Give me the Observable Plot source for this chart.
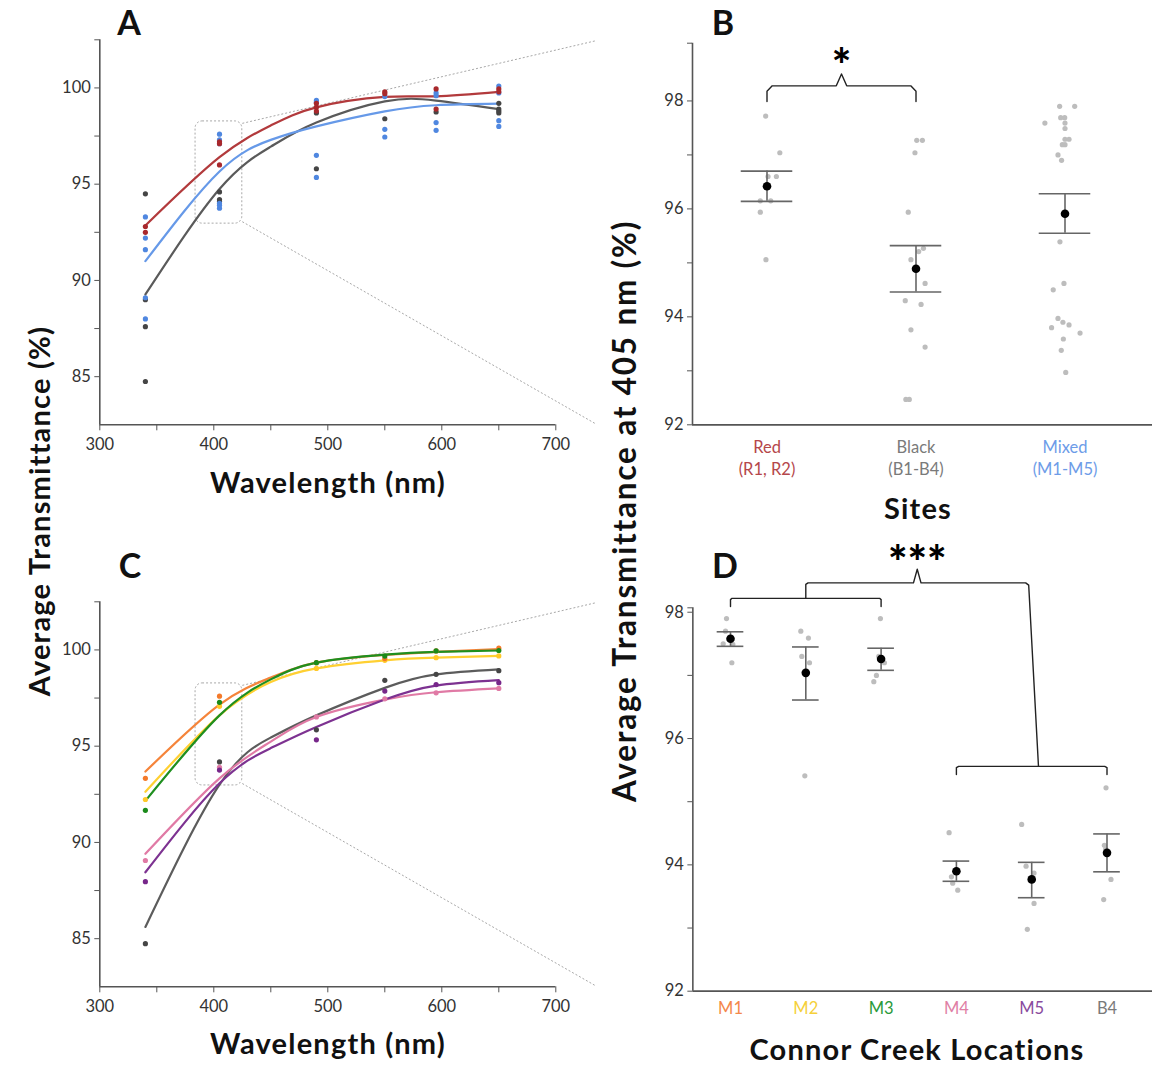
<!DOCTYPE html>
<html><head><meta charset="utf-8">
<script src="https://cdn.jsdelivr.net/npm/d3@7"></script>
<script src="https://cdn.jsdelivr.net/npm/@observablehq/plot@0.6"></script>
<style>
body{margin:0;background:#fff;font-family:Lato,"Open Sans",sans-serif}
#wrap{position:relative;width:1152px;height:1066px;overflow:hidden;background:#fff}
.p{position:absolute}
.t{position:absolute;transform:translate(-50%,-50%);white-space:nowrap;font-weight:700;color:#111;line-height:1}
.rot{transform:translate(-50%,-50%) rotate(-90deg)}
</style></head>
<body><div id="wrap"></div>
<script>
// ---------- DATA ----------
const wavelengths = [340, 405, 490, 550, 595, 650];
const fitWavelengths = [340, 405, 450, 490, 550, 595, 650];

// Panel A: measured points (one list per wavelength) and fitted curves
const aRedPoints = [[92.8, 92.5], [97.2, 97.1, 96.0], [99.2, 99.0, 98.8], [99.8, 99.7], [99.95, 98.9], [99.95, 99.8]];
const aBluePoints = [[93.3, 92.2, 91.6, 89.1, 88.0], [97.6, 97.3, 97.1, 94.0, 93.9, 93.75], [99.35, 99.25, 96.5, 95.35], [99.55, 97.85, 97.45], [99.74, 99.6, 98.2, 97.8], [100.1, 99.74, 98.3, 98.0]];
const aBlackPoints = [[94.5, 89.0, 87.6, 84.75], [94.6, 94.2, 94.1], [98.7, 95.8], [98.4], [98.75], [99.2, 98.9, 98.8, 98.7]];
const aRedFit = [92.85, 96.4, 98.05, 98.99, 99.53, 99.56, 99.79];
const aBlueFit = [91.0, 95.66, 97.3, 98.0, 98.78, 99.1, 99.18];
const aBlackFit = [89.27, 94.75, 96.95, 98.2, 99.3, 99.34, 98.9];

// Panel C: measured points and fitted curves per location
const cM1Points = [93.33, 97.6, 99.34, 99.55, 99.95, 100.09];
const cM2Points = [92.23, 97.07, 99.04, 99.46, 99.6, 99.69];
const cM3Points = [91.67, 97.28, 99.34, 99.68, 99.95, 99.97];
const cM4Points = [89.06, 93.9, 96.52, 97.46, 97.77, 98.0];
const cM5Points = [87.96, 93.76, 95.33, 97.86, 98.2, 98.3];
const cB4Points = [84.74, 94.18, 95.85, 98.42, 98.73, 98.92];
const cM1Fit = [93.68, 97.16, 98.56, 99.34, 99.74, 99.9, 100.04];
const cM2Fit = [92.63, 96.6, 98.33, 99.04, 99.46, 99.6, 99.69];
const cM3Fit = [92.16, 96.6, 98.47, 99.34, 99.76, 99.9, 99.97];
const cM4Fit = [89.41, 93.33, 95.24, 96.52, 97.42, 97.8, 98.0];
const cM5Fit = [88.45, 93.07, 94.9, 96.0, 97.42, 98.15, 98.43];
const cB4Fit = [85.61, 93.0, 95.45, 96.6, 98.03, 98.73, 98.99];

// Panel B: transmittance at 405 nm by site
const sites = ["Red", "Black", "Mixed"];
const siteCodes = ["(R1, R2)", "(B1-B4)", "(M1-M5)"];
const redValues = [97.72, 97.04, 96.6, 96.6, 96.15, 96.15, 95.94, 95.06];
const redJitter = [-0.009, 0.086, 0.007, 0.063, -0.045, 0.025, -0.045, -0.007];
const blackValues = [97.27, 97.27, 97.04, 95.94, 95.27, 95.21, 95.06, 94.62, 94.30, 94.23, 93.76, 93.44, 92.47, 92.47];
const blackJitter = [0.005, 0.043, -0.007, -0.052, 0.05, 0.018, -0.034, 0.061, -0.072, 0.034, -0.034, 0.061, -0.068, -0.045];
const mixedValues = [97.9, 97.9, 97.69, 97.69, 97.59, 97.59, 97.49, 97.29, 97.29, 97.19, 97.19, 97.0, 96.9, 95.39, 94.62, 94.5, 93.97, 93.9, 93.85, 93.8, 93.7, 93.59, 93.38, 92.97];
const mixedJitter = [-0.036, 0.065, -0.029, -0.002, -0.135, 0, 0, 0, 0.027, -0.018, 0, -0.047, -0.023, -0.034, -0.007, -0.079, -0.047, -0.014, 0.027, -0.09, 0.101, -0.011, -0.025, 0.005];
const siteMeans = [96.42, 94.89, 95.91];
const siteErrHigh = [96.70, 95.32, 96.28];
const siteErrLow = [96.14, 94.46, 95.55];

// Panel D: Connor Creek locations
const locations = ["M1", "M2", "M3", "M4", "M5", "B4"];
const locValues = [
  [97.9, 97.7, 97.5, 97.49, 97.2],
  [97.7, 97.59, 97.3, 97.2, 95.41],
  [97.9, 97.3, 97.2, 97.0, 96.9],
  [94.51, 93.9, 93.81, 93.71, 93.6],
  [94.64, 93.98, 93.87, 93.39, 92.98],
  [95.22, 94.31, 94.25, 93.77, 93.45]
];
const locJitter = [
  [-0.053, -0.066, -0.097, 0.031, 0.018],
  [-0.066, 0.035, -0.053, 0.049, -0.013],
  [-0.009, -0.031, 0.044, -0.062, -0.097],
  [-0.097, 0, -0.066, -0.049, 0.018],
  [-0.133, -0.075, 0.031, 0.031, -0.058],
  [-0.013, -0.035, -0.018, 0.053, -0.044]
];
const locMeans = [97.58, 97.04, 97.26, 93.90, 93.77, 94.19];
const locErrHigh = [97.69, 97.45, 97.43, 94.06, 94.04, 94.49];
const locErrLow = [97.46, 96.61, 97.08, 93.74, 93.48, 93.89];

// ---------- STYLE ----------
const FONT = "Lato, 'Open Sans', sans-serif";
const baseStyle = {fontFamily: FONT, fontSize: "16.5px", color: "#333", background: "transparent", overflow: "visible"};
const AXIS = "#555";
const seriesA = [
  {name: "Black", pts: aBlackPoints, fit: aBlackFit, dot: "#454545", line: "#5a5a5a"},
  {name: "Mixed", pts: aBluePoints, fit: aBlueFit, dot: "#4f87e0", line: "#6699e8"},
  {name: "Red", pts: aRedPoints, fit: aRedFit, dot: "#a8282c", line: "#b23a3c"}
];
const seriesC = [
  {name: "B4", pts: cB4Points, fit: cB4Fit, dot: "#454545", line: "#5c5c5c"},
  {name: "M4", pts: cM4Points, fit: cM4Fit, dot: "#e07aa5", line: "#e07aa5"},
  {name: "M5", pts: cM5Points, fit: cM5Fit, dot: "#77278a", line: "#7d3291"},
  {name: "M2", pts: cM2Points, fit: cM2Fit, dot: "#ffc928", line: "#ffd032"},
  {name: "M1", pts: cM1Points, fit: cM1Fit, dot: "#f47a2a", line: "#f5843a"},
  {name: "M3", pts: cM3Points, fit: cM3Fit, dot: "#1a8a1a", line: "#1f8f1f"}
];
const siteColors = ["#b5474b", "#7a7a7a", "#6d9ce8"];
const locColors = ["#f4884a", "#f5d03a", "#2a9a3a", "#e07fa5", "#8a4b9e", "#7a7a7a"];
const intFmt = d3.format("d");

// ---------- PANELS A & C ----------
function wavePanel(series) {
  const dots = [];
  series.forEach(s => s.pts.forEach((vals, i) => [].concat(vals).forEach(v => dots.push({wl: wavelengths[i], v, color: s.dot}))));
  const fits = [];
  series.forEach(s => s.fit.forEach((v, i) => fits.push({wl: fitWavelengths[i], v, name: s.name, color: s.line})));
  const at405 = dots.filter(d => d.wl === 405).map(d => d.v);
  const yDom = [82.5, 102.5];
  const box = {x1: 405 - 21, x2: 405 + 20, y1: d3.min(at405) - 0.8, y2: d3.max(at405) + 0.66};
  const links = [
    {x1: box.x2, y1: box.y2 - 0.1, x2: 735, y2: yDom[1] - 0.05},
    {x1: box.x2, y1: box.y1 + 0.1, x2: 735, y2: yDom[0] + 0.05}
  ];
  return Plot.plot({
    width: 600, height: 470,
    marginLeft: 99.3, marginRight: 44.7, marginTop: 39.3, marginBottom: 45.7,
    x: {domain: [300, 700]},
    y: {domain: yDom},
    style: baseStyle,
    marks: [
      Plot.axisX({ticks: [300, 400, 500, 600, 700], tickSize: 6, tickPadding: 7, label: null, stroke: AXIS}),
      Plot.axisX({ticks: [350, 450, 550, 650], tickSize: 6, tickFormat: () => "", label: null, stroke: AXIS}),
      Plot.axisY({ticks: [85, 90, 95, 100], tickSize: 5, tickPadding: 4, label: null, stroke: AXIS}),
      Plot.axisY({ticks: [87.5, 92.5, 97.5, 102.5], tickSize: 5, tickFormat: () => "", label: null, stroke: AXIS}),
      Plot.ruleX([300], {y1: yDom[0], y2: yDom[1], stroke: AXIS, strokeWidth: 1.6}),
      Plot.ruleY([yDom[0]], {x1: 300, x2: 700, stroke: AXIS, strokeWidth: 1.6}),
      Plot.rect([box], {x1: "x1", x2: "x2", y1: "y1", y2: "y2", rx: 7, fill: "none", stroke: "#a8a8a8", strokeDasharray: "2,2", strokeWidth: 1}),
      Plot.link(links, {x1: "x1", y1: "y1", x2: "x2", y2: "y2", stroke: "#a8a8a8", strokeDasharray: "2,2", strokeWidth: 1}),
      Plot.line(fits, {x: "wl", y: "v", z: "name", stroke: "color", curve: "natural", strokeWidth: 2.2}),
      Plot.dot(dots, {x: "wl", y: "v", fill: "color", r: 2.6})
    ]
  });
}

// brace helper (x positions a..b, legs from y0 up to ym, cusp at peak)
function brace(a, b, y0, ym, peak, ex, dy) {
  const c = (a + b) / 2;
  return [[a, y0], [a, ym - dy], [a + ex, ym], [c - ex, ym], [c, peak], [c + ex, ym], [b - ex, ym], [b, ym - dy], [b, y0]];
}

// ---------- PANEL B ----------
function panelB() {
  const yDom = [92, 99.07];
  const pts = [];
  [[redValues, redJitter], [blackValues, blackJitter], [mixedValues, mixedJitter]].forEach(([vals, jit], i) =>
    vals.forEach((v, k) => pts.push({x: i + 1 + jit[k], v})));
  const idx = sites.map((d, i) => i);
  const cap = 0.173;
  const caps = idx.flatMap(i => [{x: i + 1, y: siteErrHigh[i]}, {x: i + 1, y: siteErrLow[i]}]);
  const br = brace(1, 2, 97.99, 98.28, 98.5, 0.035, 0.1).map(([x, y]) => ({x, y}));
  return Plot.plot({
    width: 552, height: 470,
    marginLeft: 92, marginRight: 0, marginTop: 42.7, marginBottom: 45.7,
    x: {domain: [0.5, 0.5 + 460 / 149], axis: null},
    y: {domain: yDom, axis: null},
    style: baseStyle,
    marks: [
      Plot.axisY({ticks: [92, 94, 96, 98], tickFormat: intFmt, tickSize: 5, tickPadding: 4, label: null, stroke: AXIS}),
      Plot.axisY({ticks: [93, 95, 97, yDom[1]], tickSize: 5, tickFormat: () => "", label: null, stroke: AXIS}),
      Plot.ruleX([0.5], {y1: yDom[0], y2: yDom[1], stroke: AXIS, strokeWidth: 1.6}),
      Plot.ruleY([yDom[0]], {stroke: AXIS, strokeWidth: 1.8}),
      Plot.text(sites, {x: (d, i) => i + 1, y: yDom[0], text: (d, i) => d + "\n" + siteCodes[i], fill: (d, i) => siteColors[i], lineAnchor: "top", dy: 12, lineHeight: 1.35, fontSize: 16.5}),
      Plot.dot(pts, {x: "x", y: "v", fill: "#bdbdbd", r: 2.6}),
      Plot.ruleX(idx, {x: i => i + 1, y1: i => siteErrLow[i], y2: i => siteErrHigh[i], stroke: "#666", strokeWidth: 1.6}),
      Plot.ruleY(caps, {y: "y", x1: d => d.x - cap, x2: d => d.x + cap, stroke: "#666", strokeWidth: 1.6}),
      Plot.dot(idx, {x: i => i + 1, y: i => siteMeans[i], fill: "#000", r: 4.3}),
      Plot.line(br, {x: "x", y: "y", stroke: "#222", strokeWidth: 1.4}),
      Plot.text(["*"], {x: 1.5, y: 98.36, text: d => d, fontSize: 46, fontWeight: 900, fill: "#000", lineAnchor: "bottom"})
    ]
  });
}

// ---------- PANEL D ----------
function panelD() {
  const yDom = [92, 98.07];
  const pts = [];
  locValues.forEach((vals, i) => vals.forEach((v, k) => pts.push({x: i + 1 + locJitter[i][k], v})));
  const idx = locations.map((d, i) => i);
  const cap = 0.177;
  const caps = idx.flatMap(i => [{x: i + 1, y: locErrHigh[i]}, {x: i + 1, y: locErrLow[i]}]);
  // small bracket over M1-M3, big bracket to M4-B4 group
  const small = [[1, 98.09], [1, 98.2], [1.02, 98.22], [3 - 0.02, 98.22], [3, 98.2], [3, 98.09]].map(([x, y]) => ({x, y, g: "s"}));
  const stem = [[2, 98.22], [2, 98.44], [2.03, 98.465]];
  const bigRight = 4.96, mid = (2 + bigRight) / 2;
  const big = [...stem, [mid - 0.05, 98.465], [mid, 98.68], [mid + 0.05, 98.465], [bigRight - 0.04, 98.465], [bigRight, 98.43], [5.09, 95.56]].map(([x, y]) => ({x, y, g: "b"}));
  const low = [[4, 95.43], [4, 95.54], [4.03, 95.56], [5.97, 95.56], [6, 95.54], [6, 95.43]].map(([x, y]) => ({x, y, g: "l"}));
  return Plot.plot({
    width: 552, height: 546,
    marginLeft: 92.35, marginRight: 0, marginTop: 87.3, marginBottom: 75.3,
    x: {domain: [0.5, 0.5 + 459.65 / 75.3], axis: null},
    y: {domain: yDom, axis: null},
    style: baseStyle,
    marks: [
      Plot.axisY({ticks: [92, 94, 96, 98], tickFormat: intFmt, tickSize: 5, tickPadding: 4, label: null, stroke: AXIS}),
      Plot.axisY({ticks: [93, 95, 97, yDom[1]], tickSize: 5, tickFormat: () => "", label: null, stroke: AXIS}),
      Plot.ruleX([0.5], {y1: yDom[0], y2: yDom[1], stroke: AXIS, strokeWidth: 1.6}),
      Plot.ruleY([yDom[0]], {stroke: AXIS, strokeWidth: 1.8}),
      Plot.text(locations, {x: (d, i) => i + 1, y: yDom[0], text: d => d, fill: (d, i) => locColors[i], lineAnchor: "top", dy: 11, fontSize: 16.5}),
      Plot.dot(pts, {x: "x", y: "v", fill: "#bdbdbd", r: 2.6}),
      Plot.ruleX(idx, {x: i => i + 1, y1: i => locErrLow[i], y2: i => locErrHigh[i], stroke: "#666", strokeWidth: 1.6}),
      Plot.ruleY(caps, {y: "y", x1: d => d.x - cap, x2: d => d.x + cap, stroke: "#666", strokeWidth: 1.6}),
      Plot.dot(idx, {x: i => i + 1, y: i => locMeans[i], fill: "#000", r: 4.3}),
      Plot.line([...small, ...big, ...low], {x: "x", y: "y", z: "g", stroke: "#222", strokeWidth: 1.4}),
      Plot.text(["***"], {x: mid, y: 98.53, text: d => d, fontSize: 46, fontWeight: 900, fill: "#000", lineAnchor: "bottom"})
    ]
  });
}

// ---------- LAYOUT ----------
const wrap = document.getElementById("wrap");
function place(el, left, top) { el.classList.add("p"); el.style.left = left + "px"; el.style.top = top + "px"; wrap.appendChild(el); }
place(wavePanel(seriesA), 0, 0);
place(wavePanel(seriesC), 0, 562);
place(panelB(), 600, 0);
place(panelD(), 600, 520);

function label(text, x, y, size, extra = "", spacing = 1.2) {
  const d = document.createElement("div");
  d.className = "t " + extra;
  d.textContent = text;
  d.style.left = x + "px"; d.style.top = y + "px"; d.style.fontSize = size + "px";
  d.style.letterSpacing = spacing + "px";
  wrap.appendChild(d);
}
label("A", 129, 22, 34, "", 0);
label("B", 723, 22, 34, "", 0);
label("C", 130, 565, 34, "", 0);
label("D", 725, 565, 34, "", 0);
label("Wavelength (nm)", 328, 481, 29);
label("Wavelength (nm)", 328, 1042, 29);
label("Sites", 918, 507, 29);
label("Connor Creek Locations", 917, 1048, 29);
label("Average Transmittance (%)", 38, 511, 29, "rot");
label("Average Transmittance at 405 nm (%)", 625, 511, 31.5, "rot", 1.8);
</script></body></html>
